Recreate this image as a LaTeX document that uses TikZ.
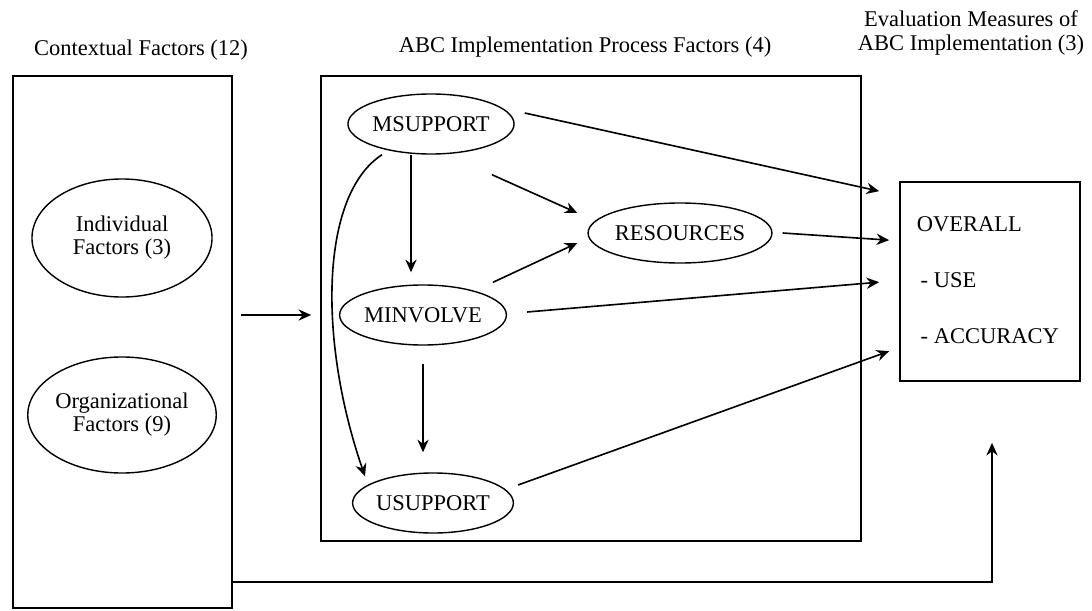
\documentclass[tikz,border=0pt]{standalone}
\usepackage{fontspec}
\setmainfont{Liberation Serif}
\usetikzlibrary{positioning, arrows.meta, calc, shapes.geometric, fit}
\tikzset{
  frame/.style={
    draw, line width=1.2pt, inner sep=0pt
  },
  factor/.style={
    draw, ellipse, line width=1pt, inner sep=0pt,
    minimum width=4cm,
    minimum height=1.5cm,
    font=\fontsize{16}{16.3}\selectfont,
    align=center
  },
  link/.style={-{Stealth[length=9pt, width=8pt, inset=3pt]}, line width=1.15pt, black}
}

\begin{document}
\begin{tikzpicture}[
  x=0.025cm, y=-0.025cm,
  heading/.style={font=\fontsize{16}{17}\selectfont, align=center},
  lbl/.style={font=\fontsize{16}{16.3}\selectfont},
]
\useasboundingbox (0,0) rectangle (1092,611);

% Cajas
\node[frame, fit={(13,76) (232,608)}] (ctx) {};
\node[frame, fit={(321,76) (861,541)}] (proc) {};
\node[frame, fit={(900,182) (1080,381)}] (eval) {};

% Titulos
\node[heading] (ctxhead) at (141,50) {Contextual Factors (12)};
\node[heading] (prochead) at (585,47) {ABC Implementation Process Factors (4)};
\node[heading] (evalhead) at (971,33) {Evaluation Measures of\\ABC Implementation (3)};

% Factores contextuales
\node[factor, minimum width=4.5cm, minimum height=2.95cm] (indiv) at (122,238) {Individual\\Factors (3)};
\node[factor, minimum width=4.5cm, minimum height=2.9cm] (org) at (122,415) {Organizational\\Factors (9)};

% Factores del proceso
\node[factor] (msup) at (431,124) {MSUPPORT};
\node[factor] (minv) at (423,315) {MINVOLVE};
\node[factor] (usup) at (433,503) {USUPPORT};
\node[factor] (res) at (680,233) {RESOURCES};

% Medidas
\node[lbl, anchor=west, align=left] (evtxt) at (912,280) {OVERALL\\[23.4pt]\,- USE\\[23.4pt]\,- ACCURACY};

% Conexiones
\draw[link] ([shift={(8,-27)}]ctx.east) -- ([shift={(-9,6.5)}]proc.west);
\draw[link] ([shift={(-20,0)}]msup.south) -- ([shift={(-12,-12)}]minv.north);
\draw[link] ([shift={(0,18)}]minv.south) -- ([shift={(-10,-20)}]usup.north);
\draw[link] ([shift={(-49,0)}]msup.south) .. controls (320,195) and (318,340) .. ([shift={(-68,4)}]usup.north);

% Hacia RESOURCES
\draw[link] ([shift={(61,20)}]msup.south) -- ([shift={(-10,-20)}]res.west);
\draw[link] ([shift={(70,-2)}]minv.north) -- ([shift={(-10,10)}]res.west);

% Hacia las medidas de evaluacion
\draw[link] ([shift={(10,-11)}]msup.east) -- ([shift={(-20,10)}]eval.north west);
\draw[link] ([shift={(10,0)}]res.east) -- ([shift={(-10,59)}]eval.north west);
\draw[link] ([shift={(20,-3)}]minv.east) -- ([shift={(-20,101)}]eval.north west);
\draw[link] ([shift={(4,-18)}]usup.east) -- ([shift={(-10,170)}]eval.north west);

% Lazo inferior
\draw[link] ([shift={(0,240)}]ctx.east) -| ([shift={(2,61)}]eval.south);

\end{tikzpicture}
\end{document}
